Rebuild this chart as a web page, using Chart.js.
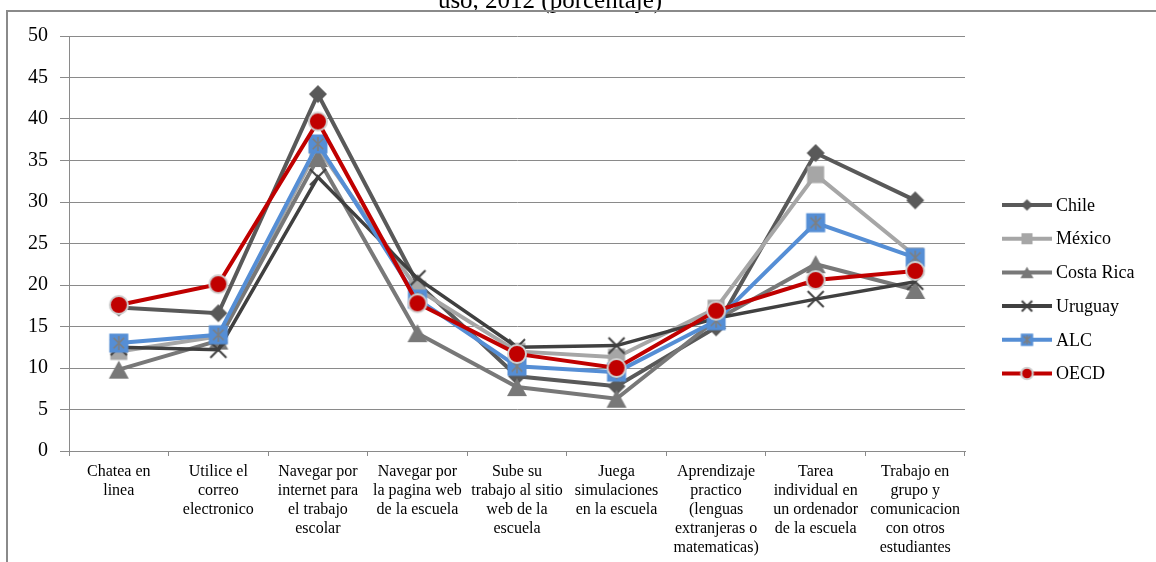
<!DOCTYPE html>
<html><head><meta charset="utf-8">
<script src="https://cdn.jsdelivr.net/npm/chart.js@4.4.1/dist/chart.umd.min.js"></script>
<style>html,body{margin:0;padding:0;background:#fff}#wrap{width:1156px;height:562px;position:relative}</style>
</head><body><div id="wrap"><canvas id="c" width="1156" height="562"></canvas></div>
<script>
const categories = [
  ["Chatea en","linea"],
  ["Utilice el","correo","electronico"],
  ["Navegar por","internet para","el trabajo","escolar"],
  ["Navegar por","la pagina web","de la escuela"],
  ["Sube su","trabajo al sitio","web de la","escuela"],
  ["Juega","simulaciones","en la escuela"],
  ["Aprendizaje","practico","(lenguas","extranjeras o","matematicas)"],
  ["Tarea","individual en","un ordenador","de la escuela"],
  ["Trabajo en","grupo y","comunicacion","con otros","estudiantes"]
];
const seriesNames = ["Chile","México","Costa Rica","Uruguay","ALC","OECD"];
const chile     = [17.3, 16.6, 43.0, 20.2,  9.0,  7.8, 14.9, 35.9, 30.2];
const mexico    = [12.0, 13.8, 36.5, 19.5, 12.0, 11.3, 17.2, 33.3, 23.5];
const costaRica = [ 9.8, 13.3, 35.3, 14.2,  7.7,  6.3, 15.8, 22.5, 19.4];
const uruguay   = [12.5, 12.2, 33.0, 20.8, 12.5, 12.7, 16.0, 18.3, 20.4];
const alc       = [13.0, 14.0, 37.0, 18.3, 10.2,  9.5, 15.7, 27.5, 23.3];
const oecd      = [17.6, 20.1, 39.7, 17.8, 11.7, 10.0, 16.9, 20.6, 21.7];
const yMin = 0, yMax = 50, yStep = 5;
const titleText = "uso, 2012 (porcentaje)";

const colors = ['#595959','#A6A6A6','#787878','#404040','#558ED5','#C00000'];
const SERIF = "'Liberation Serif', 'Times New Roman', serif";

function makeMarker(kind, s) {
  const c = document.createElement('canvas');
  const size = Math.ceil(28 * s);
  c.width = size; c.height = size;
  const g = c.getContext('2d');
  const m = size / 2;
  g.translate(m, m);
  if (kind === 'diamond') {
    const r = 9 * s;
    g.fillStyle = colors[0];
    g.beginPath(); g.moveTo(0,-r); g.lineTo(r,0); g.lineTo(0,r); g.lineTo(-r,0); g.closePath(); g.fill();
  } else if (kind === 'square') {
    const h = 8.5 * s;
    g.fillStyle = colors[1];
    g.fillRect(-h,-h,2*h,2*h);
  } else if (kind === 'triangle') {
    const w = 10 * s, h = 9 * s;
    g.fillStyle = colors[2];
    g.beginPath(); g.moveTo(0,-h); g.lineTo(w,h); g.lineTo(-w,h); g.closePath(); g.fill();
  } else if (kind === 'x') {
    const r = 8 * s;
    g.strokeStyle = colors[3]; g.lineWidth = 2;
    g.beginPath(); g.moveTo(-r,-r); g.lineTo(r,r); g.moveTo(r,-r); g.lineTo(-r,r); g.stroke();
  } else if (kind === 'star') {
    const h = 9.5 * s;
    g.fillStyle = colors[4];
    g.fillRect(-h,-h,2*h,2*h);
    const r = 7 * s;
    g.strokeStyle = '#7f7f7f'; g.lineWidth = 1.5;
    g.beginPath();
    g.moveTo(0,-r); g.lineTo(0,r);
    g.moveTo(-r*0.75,-r*0.75); g.lineTo(r*0.75,r*0.75);
    g.moveTo(r*0.75,-r*0.75); g.lineTo(-r*0.75,r*0.75);
    g.stroke();
  } else if (kind === 'circle') {
    const r = 9 * s;
    g.fillStyle = colors[5]; g.strokeStyle = '#d0d0d0'; g.lineWidth = 2;
    g.beginPath(); g.arc(0,0,r,0,Math.PI*2); g.fill(); g.stroke();
  }
  return c;
}
const kinds = ['diamond','square','triangle','x','star','circle'];
const markers = kinds.map(k => makeMarker(k, 1));
const legendMarkers = kinds.map(k => makeMarker(k, 0.65));
const seriesData = [chile, mexico, costaRica, uruguay, alc, oecd];

const frameLegend = {
  id: 'frameLegend',
  beforeDraw(chart) {
    const ctx = chart.ctx;
    ctx.save();
    ctx.fillStyle = '#fff';
    ctx.fillRect(0,0,chart.width,chart.height);
    ctx.fillStyle = '#000';
    ctx.font = "25px " + SERIF;
    ctx.textAlign = 'center'; ctx.textBaseline = 'alphabetic';
    ctx.fillText(titleText, 550, 8);
    ctx.strokeStyle = '#8a8a8a'; ctx.lineWidth = 2;
    ctx.beginPath(); ctx.moveTo(7, 562); ctx.lineTo(7, 11); ctx.lineTo(1156, 11); ctx.stroke();
    ctx.restore();
  },
  afterDraw(chart) {
    const ctx = chart.ctx;
    ctx.save();
    seriesNames.forEach((name, i) => {
      const y = 205 + i * 33.7;
      ctx.strokeStyle = colors[i]; ctx.lineWidth = 4;
      ctx.beginPath(); ctx.moveTo(1002, y); ctx.lineTo(1052, y); ctx.stroke();
      const mk = legendMarkers[i];
      ctx.drawImage(mk, 1027 - mk.width/2, y - mk.height/2);
      ctx.fillStyle = '#000';
      ctx.font = "18px " + SERIF;
      ctx.textAlign = 'left'; ctx.textBaseline = 'middle';
      ctx.fillText(name, 1056, y + 1);
    });
    ctx.restore();
  }
};

const datasets = seriesNames.map((name, i) => ({
  label: name,
  data: seriesData[i],
  borderColor: colors[i],
  backgroundColor: colors[i],
  borderWidth: i === 3 ? 3.5 : 4,
  pointStyle: markers[i],
  pointRadius: 8,
  pointHoverRadius: 8,
  tension: 0,
  order: 5 - i
}));

new Chart(document.getElementById('c'), {
  type: 'line',
  data: { labels: categories, datasets },
  plugins: [frameLegend],
  options: {
    responsive: false,
    animation: false,
    devicePixelRatio: 1,
    layout: { padding: { top: 36, right: 191, left: 0, bottom: 0 } },
    plugins: { legend: { display: false }, tooltip: { enabled: false }, title: { display: false } },
    scales: {
      x: {
        offset: true,
        grid: { offset: true, drawOnChartArea: false, color: '#8a8a8a', tickLength: 5 },
        border: { color: '#8a8a8a' },
        ticks: { autoSkip: false, maxRotation: 0, minRotation: 0, padding: 6, color: '#000',
                 font: { family: SERIF, size: 16, lineHeight: 1.19 } },
        afterFit(s) { s.height = 111; }
      },
      y: {
        min: yMin, max: yMax,
        grid: { color: '#8a8a8a', tickLength: 9 },
        border: { color: '#8a8a8a' },
        ticks: { stepSize: yStep, padding: 12, color: '#000', font: { family: SERIF, size: 20 } },
        afterFit(s) { s.width = 69; }
      }
    }
  }
});
</script></body></html>
